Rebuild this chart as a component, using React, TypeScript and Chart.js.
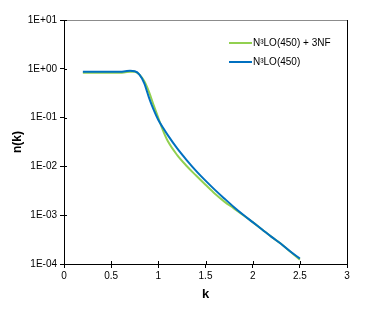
import React, { useEffect, useRef } from "react";
import { Chart, registerables } from "chart.js";

Chart.register(...registerables);

const K = [0.2, 0.3, 0.4, 0.5, 0.6, 0.65, 0.7, 0.75, 0.8, 0.85, 0.9, 0.95, 1.0, 1.05, 1.1, 1.2, 1.3, 1.4, 1.5, 1.6, 1.7, 1.8, 1.9, 2.0, 2.1, 2.2, 2.3, 2.4, 2.5];

const N3LO_3NF = [0.83, 0.83, 0.83, 0.83, 0.83, 0.85, 0.87, 0.87, 0.76, 0.56, 0.34, 0.18, 0.098, 0.054, 0.033, 0.017, 0.0102, 0.0065, 0.0042, 0.00275, 0.0019, 0.00138, 0.001, 0.00072, 0.00051, 0.00036, 0.00026, 0.000178, 0.000123];

const N3LO = [0.87, 0.87, 0.87, 0.87, 0.87, 0.89, 0.91, 0.89, 0.76, 0.51, 0.26, 0.145, 0.089, 0.0617, 0.0437, 0.0234, 0.0135, 0.0081, 0.0051, 0.0033, 0.0022, 0.00148, 0.00102, 0.00072, 0.00051, 0.00036, 0.00026, 0.00018, 0.000129];

const SERIES_LABELS = ["N³LO(450) + 3NF", "N³LO(450)"];
const SERIES_COLORS = ["#92D050", "#0070C0"];

const Y_TICK_VALUES = [1e-4, 1e-3, 1e-2, 1e-1, 1, 10];
const Y_TICK_LABELS = ["1E-04", "1E-03", "1E-02", "1E-01", "1E+00", "1E+01"];
const X_TICK_VALUES = [0, 0.5, 1, 1.5, 2, 2.5, 3];
const X_TICK_LABELS = ["0", "0.5", "1", "1.5", "2", "2.5", "3"];

const FONT = '"Liberation Sans", Arial, sans-serif';

const framePlugin = {
  id: "frame",
  afterDraw(chart: any) {
    const { ctx, chartArea } = chart;
    const { left, right, top, bottom } = chartArea;
    ctx.save();
    ctx.lineWidth = 1;
    ctx.strokeStyle = "#8c8c8c";
    ctx.beginPath();
    ctx.moveTo(left, top + 0.5);
    ctx.lineTo(right + 1, top + 0.5);
    ctx.stroke();
    ctx.strokeStyle = "#000";
    ctx.beginPath();
    ctx.moveTo(right + 0.5, top);
    ctx.lineTo(right + 0.5, bottom);
    ctx.stroke();
    const ys = chart.scales.y;
    const xs = chart.scales.x;
    ctx.beginPath();
    ys.ticks.forEach((t: any) => {
      const py = Math.round(ys.getPixelForValue(t.value)) + 0.5;
      ctx.moveTo(left, py);
      ctx.lineTo(left + 3, py);
    });
    xs.ticks.forEach((t: any) => {
      const px = Math.round(xs.getPixelForValue(t.value)) + 0.5;
      ctx.moveTo(px, bottom);
      ctx.lineTo(px, bottom - 3);
    });
    ctx.stroke();
    ctx.font = "10px " + FONT;
    ctx.textBaseline = "middle";
    ctx.textAlign = "left";
    const lx0 = 229;
    const lx1 = 252;
    const ly = [43, 62];
    chart.data.datasets.forEach((ds: any, i: number) => {
      ctx.strokeStyle = ds.borderColor;
      ctx.lineWidth = 2;
      ctx.beginPath();
      ctx.moveTo(lx0, ly[i]);
      ctx.lineTo(lx1, ly[i]);
      ctx.stroke();
      ctx.fillStyle = "#000";
      ctx.fillText(ds.label, lx1 + 1, ly[i]);
    });
    ctx.restore();
  },
};

export default function App() {
  const ref = useRef<HTMLCanvasElement | null>(null);
  useEffect(() => {
    document.body.style.margin = "0";
    if (!ref.current) return;
    const chart = new Chart(ref.current, {
      type: "line",
      data: {
        datasets: [
          {
            label: SERIES_LABELS[0],
            data: K.map((k, i) => ({ x: k, y: N3LO_3NF[i] })),
            borderColor: SERIES_COLORS[0],
            backgroundColor: SERIES_COLORS[0],
            borderWidth: 2,
            pointRadius: 0,
            cubicInterpolationMode: "monotone",
            order: 2,
          },
          {
            label: SERIES_LABELS[1],
            data: K.map((k, i) => ({ x: k, y: N3LO[i] })),
            borderColor: SERIES_COLORS[1],
            backgroundColor: SERIES_COLORS[1],
            borderWidth: 2,
            pointRadius: 0,
            cubicInterpolationMode: "monotone",
            order: 1,
          },
        ],
      },
      options: {
        responsive: false,
        animation: false,
        devicePixelRatio: 1,
        layout: { padding: { top: 20, right: 19, left: 0, bottom: 0 } },
        plugins: { legend: { display: false }, tooltip: { enabled: false } },
        scales: {
          x: {
            type: "linear",
            min: 0,
            max: 3,
            afterBuildTicks: (s: any) => {
              s.ticks = X_TICK_VALUES.map((v) => ({ value: v }));
            },
            afterFit: (s: any) => {
              s.height = 45;
            },
            ticks: {
              autoSkip: false,
              maxRotation: 0,
              padding: 2,
              color: "#000",
              font: { family: FONT, size: 10 },
              callback: (v: any) => {
                const i = X_TICK_VALUES.indexOf(Number(v));
                return i >= 0 ? X_TICK_LABELS[i] : "";
              },
            },
            grid: { drawOnChartArea: false, drawTicks: true, tickLength: 4, color: "#000" },
            border: { display: true, color: "#000", width: 1 },
            title: {
              display: true,
              text: "k",
              color: "#000",
              font: { family: FONT, size: 13, weight: "bold" },
              padding: { top: 0, bottom: 7 },
            },
          },
          y: {
            type: "logarithmic",
            min: 1e-4,
            max: 10,
            afterBuildTicks: (s: any) => {
              s.ticks = Y_TICK_VALUES.map((v) => ({ value: v }));
            },
            afterFit: (s: any) => {
              s.width = 64;
            },
            ticks: {
              autoSkip: false,
              padding: 3,
              color: "#000",
              font: { family: FONT, size: 10 },
              callback: (v: any) => {
                const i = Y_TICK_VALUES.findIndex((t) => Math.abs(t - Number(v)) / t < 1e-6);
                return i >= 0 ? Y_TICK_LABELS[i] : "";
              },
            },
            grid: { drawOnChartArea: false, drawTicks: true, tickLength: 4, color: "#000" },
            border: { display: true, color: "#000", width: 1 },
            title: {
              display: true,
              text: "n(k)",
              color: "#000",
              font: { family: FONT, size: 12, weight: "bold" },
              padding: { top: 10, bottom: 0 },
            },
          },
        },
      },
      plugins: [framePlugin],
    });
    return () => chart.destroy();
  }, []);
  return (
    <div style={{ width: 366, height: 309 }}>
      <canvas ref={ref} width={366} height={309} />
    </div>
  );
}
